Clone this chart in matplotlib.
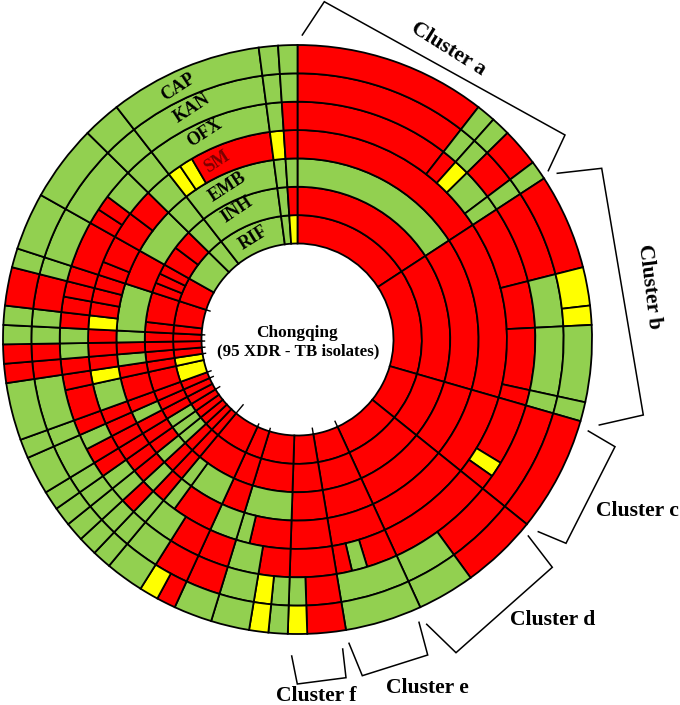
import numpy as np
import matplotlib
matplotlib.use("Agg")
import matplotlib.pyplot as plt

W, H = 680, 705
CX, CY, ROUT = 297.5, 339.5, 294.5
RIN = 96.0
N = 95

RIF = "R15 R13 R6 R7 R4 R3 R4 R2 R4 R1 R1 R1 R1 R1 R1 R1 R1 Y2 Y1 R1 R1 R1 R1 R3 R3 G4 G2 G8 G1 Y1"
INH = "R15 R13 R6 R7 R4 R3 R4 R2 R4 R1 R1 G1 G1 G1 R1 R1 R1 R2 R1 R1 R1 R1 R1 R3 R1 R1 R1 R2 R2 G2 G8 G1 R1"
EMB = "G15 R13 R6 R7 R4 R3 G4 R2 G3 G1 R1 R1 G1 R1 R1 R1 G1 R1 R2 R1 G1 R1 G1 G4 R3 G4 G2 G8 G1 G1"
SM = "R15 R13 R6 R7 R4 R3 R3 G1 G2 R3 G1 R1 G1 R1 R1 R1 R1 R1 R1 G2 Y1 R1 R1 R1 Y1 R1 R1 R1 R1 R2 R2 R2 G2 Y1 Y1 R6 Y1 R1"
OFX = "R10 R1 Y1 G2 G1 R5 R3 R4 R1 R4 Y1 R1 R7 R2 G1 R1 R3 R2 G2 R2 R2 G2 G1 R1 G1 G1 R1 R1 G1 R1 R2 R1 R1 G1 G1 R1 R1 R1 R1 R3 R1 R1 G2 G2 G8 G1 R1"
KAN = "R10 G1 G1 R2 G1 R5 G3 G4 G1 R6 R4 G3 G4 R2 G1 G1 Y1 G2 R2 R2 G2 G1 G1 G1 G1 G1 G2 G1 G3 R1 R1 G1 G1 R2 G1 G3 G4 G2 G8 G1 G1"
CAP = "R10 G1 G1 R2 G1 R5 Y2 Y1 G4 G1 R6 R4 G3 G4 R2 Y1 G1 Y1 G2 G2 R1 Y1 G2 G1 G1 G1 G1 G1 G2 G1 G3 R1 R1 G1 G1 R2 G1 G3 G4 G2 G8 G1 G1"
RINGS = [RIF, INH, EMB, SM, OFX, KAN, CAP]
INNER_TICKS = [41, 45, 52, 54, 58, 63, 65, 66, 69, 70, 71, 72, 76]
TICK_LEN = [6, 6, 3, 3, 11, 5, 4, 4, 3, 3, 3, 3, 4]
COLORS = {"R": "#FF0000", "G": "#92D050", "Y": "#FFFF00"}

DRUGS = ["RIF", "INH", "EMB", "SM", "OFX", "KAN", "CAP"]
DRUG_COLORS = ["black", "black", "black", "#7A0000", "black", "black", "black"]
DRUG_XY = [(253, 238), (237, 210), (227, 187), (217, 162), (205, 133), (192, 108), (178, 87)]
DRUG_ROT = [32, 34, 33, 33, 33, 33, 33]

plt.rcParams["font.family"] = ["Liberation Serif", "DejaVu Serif"]
plt.rcParams["font.weight"] = "bold"

fig = plt.figure(figsize=(W / 100, H / 100), dpi=100, facecolor="white")
ax = fig.add_axes([(CX - ROUT) / W, (H - CY - ROUT) / H, 2 * ROUT / W, 2 * ROUT / H], projection="polar")
ax.set_theta_zero_location("N")
ax.set_theta_direction(-1)
ax.set_rlim(0, ROUT)
ax.axis("off")

ring_h = (ROUT - RIN) / len(RINGS)
unit = 2 * np.pi / N
for i, ring in enumerate(RINGS):
    pos = 0
    for tok in ring.split():
        n = int(tok[1:])
        ax.bar((pos + n / 2) * unit, ring_h, width=n * unit, bottom=RIN + i * ring_h,
               color=COLORS[tok[0]], edgecolor="black", linewidth=1.3, clip_on=False, zorder=2)
        pos += n
    assert pos == N, (DRUGS[i], pos)
for t, ln in zip(INNER_TICKS, TICK_LEN):
    ax.plot([t * unit, t * unit], [RIN - ln, RIN], color="black", lw=1.0, clip_on=False, zorder=3)

ov = fig.add_axes([0, 0, 1, 1], facecolor="none")
ov.set_xlim(0, W)
ov.set_ylim(H, 0)
ov.axis("off")

for name, col, (x, y), rot in zip(DRUGS, DRUG_COLORS, DRUG_XY, DRUG_ROT):
    ov.text(x, y, name, color=col, rotation=rot, fontsize=13, ha="center", va="center", rotation_mode="anchor")

ov.text(297, 333, "Chongqing", fontsize=12.4, ha="center", va="center")
ov.text(298, 351, "(95 XDR - TB isolates)", fontsize=12.2, ha="center", va="center")

CLUSTERS = [("Cluster a", 448, 49, -32), ("Cluster b", 649, 287, -83), ("Cluster c", 637, 511, 0),
            ("Cluster d", 553, 620, 0), ("Cluster e", 427, 688, 0), ("Cluster f", 316, 696, 0)]
for name, x, y, rot in CLUSTERS:
    ov.text(x, y, name, fontsize=15.6, ha="center", va="center", rotation=rot, rotation_mode="anchor")

BRACKETS = [
    [(302.3, 35), (324.3, 1.7), (565, 135), (548.3, 170.7)],
    [(557.3, 173.3), (601.7, 168.3), (643.3, 415), (599.3, 425)],
    [(588.3, 431), (615, 446.7), (566, 543.3), (538.3, 531.7)],
    [(528.3, 536), (552.3, 567.3), (456, 652.7), (426.7, 624.3)],
    [(419, 622.3), (427.7, 655), (362.3, 675.7), (349, 643.3)],
    [(342.7, 649), (346, 677.7), (297.3, 684), (291.7, 656)],
]
for b in BRACKETS:
    xs, ys = zip(*b)
    ov.plot(xs, ys, color="black", lw=1.1, solid_joinstyle="miter")

fig.savefig("out.png", dpi=100)
